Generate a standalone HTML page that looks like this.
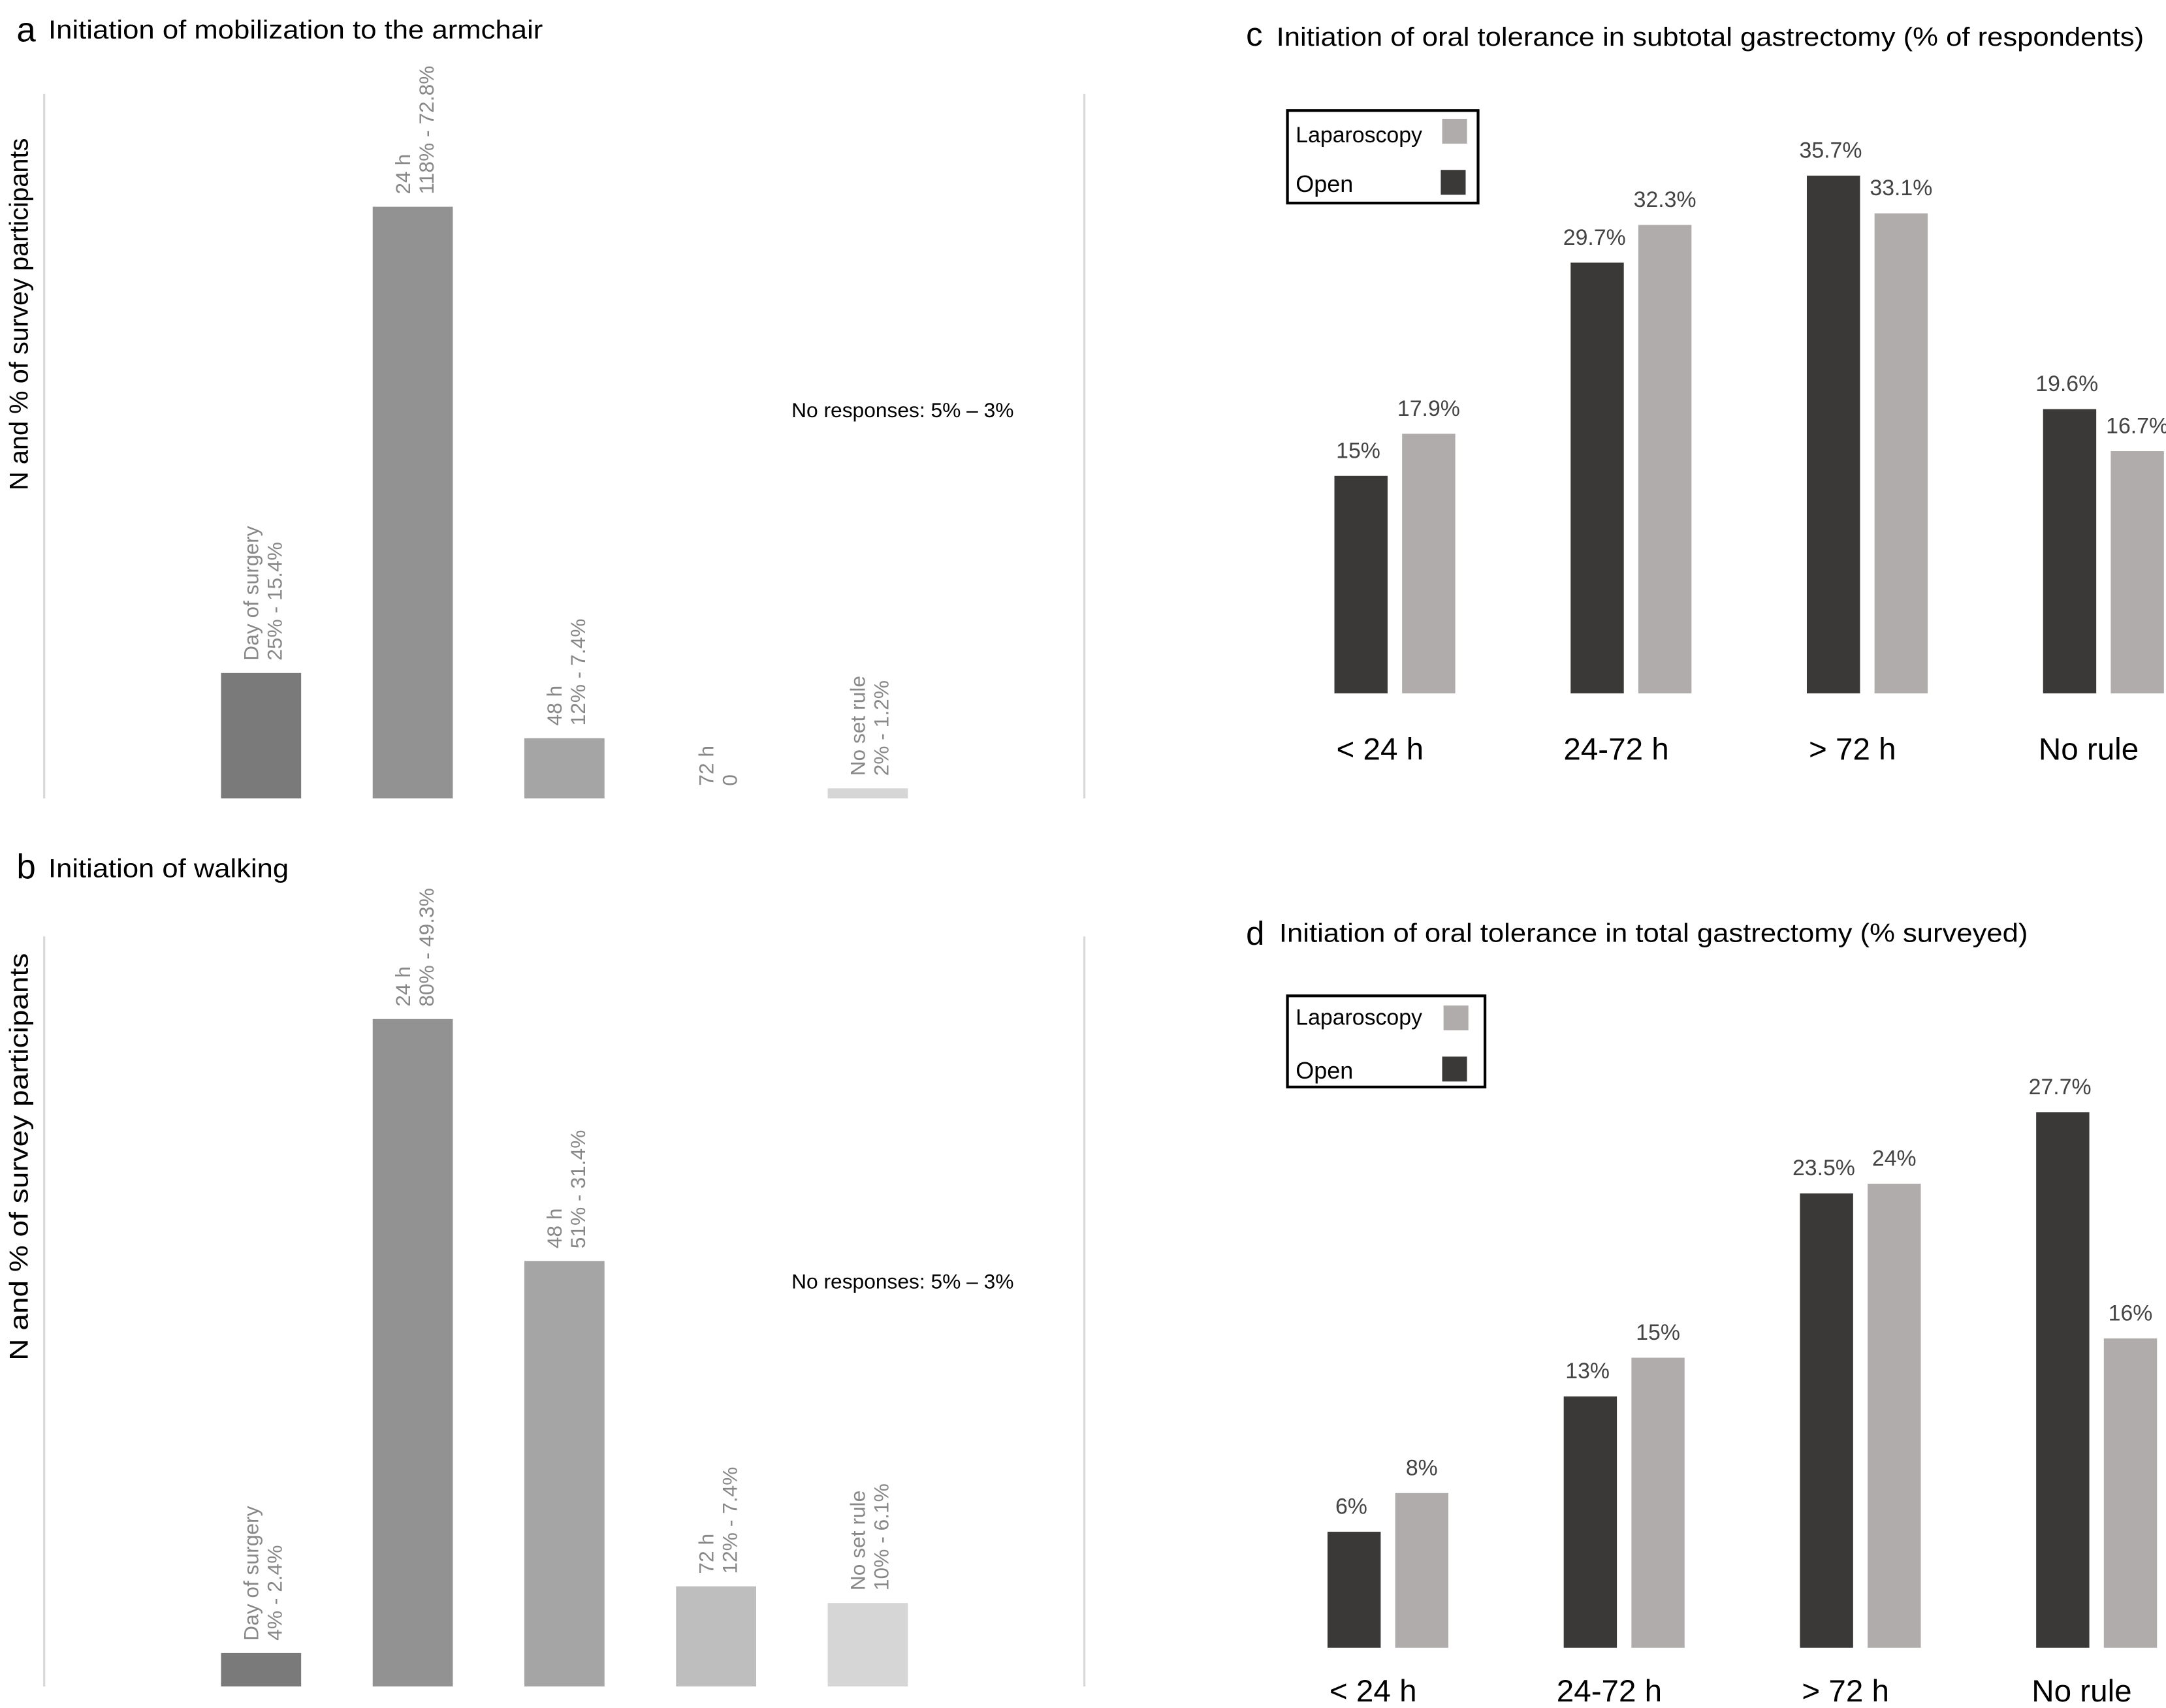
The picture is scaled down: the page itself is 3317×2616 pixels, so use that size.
<!DOCTYPE html>
<html><head><meta charset="utf-8">
<style>
html,body{margin:0;padding:0;background:#fff;}
svg{display:block;font-family:"Liberation Sans",Arial,sans-serif;}
</style></head>
<body>
<svg id="fig" width="3317" height="2616" viewBox="0 0 1568 1236.6" xmlns="http://www.w3.org/2000/svg">
<g>
 <text x="12" y="30" font-size="25">a</text>
 <text x="35" y="28" font-size="19" textLength="358" lengthAdjust="spacingAndGlyphs">Initiation of mobilization to the armchair</text>
 <line x1="32" y1="68" x2="32" y2="578" stroke="#d8d8d8" stroke-width="1.5"/>
 <line x1="785" y1="68" x2="785" y2="578" stroke="#d8d8d8" stroke-width="1.5"/>
 <text transform="translate(20,355) rotate(-90)" font-size="19" textLength="255" lengthAdjust="spacingAndGlyphs">N and % of survey participants</text>
 <text x="573" y="302" font-size="15">No responses: 5% – 3%</text>
 <g id="barsA"></g>
</g>
<g>
 <text x="12" y="636" font-size="25">b</text>
 <text x="35" y="635" font-size="19" textLength="174" lengthAdjust="spacingAndGlyphs">Initiation of walking</text>
 <line x1="32" y1="678" x2="32" y2="1221" stroke="#d8d8d8" stroke-width="1.5"/>
 <line x1="785" y1="678" x2="785" y2="1221" stroke="#d8d8d8" stroke-width="1.5"/>
 <text transform="translate(20,985) rotate(-90)" font-size="19" textLength="295" lengthAdjust="spacingAndGlyphs">N and % of survey participants</text>
 <text x="573" y="933" font-size="15">No responses: 5% – 3%</text>
 <g id="barsB"></g>
</g>
<g>
 <text x="902" y="33" font-size="24">c</text>
 <text x="924" y="33" font-size="19" textLength="628" lengthAdjust="spacingAndGlyphs">Initiation of oral tolerance in subtotal gastrectomy (% of respondents)</text>
 <g>
  <rect x="932" y="80" width="138" height="67" fill="#fff" stroke="#000" stroke-width="2"/>
  <text x="938" y="103" font-size="16">Laparoscopy</text>
  <rect x="1044" y="86" width="18" height="18" fill="#b0acab"/>
  <text x="938" y="139" font-size="17">Open</text>
  <rect x="1043" y="123" width="18" height="18" fill="#3a3938"/>
 </g>
 <g id="barsC"></g>
</g>
<g>
 <text x="902" y="684" font-size="24">d</text>
 <text x="926" y="682" font-size="19" textLength="542" lengthAdjust="spacingAndGlyphs">Initiation of oral tolerance in total gastrectomy (% surveyed)</text>
 <g>
  <rect x="932" y="721" width="143" height="66" fill="#fff" stroke="#000" stroke-width="2"/>
  <text x="938" y="742" font-size="16">Laparoscopy</text>
  <rect x="1045" y="728" width="18" height="18" fill="#b0acab"/>
  <text x="938" y="781" font-size="17">Open</text>
  <rect x="1044" y="765" width="18" height="18" fill="#3a3938"/>
 </g>
 <g id="barsD"></g>
</g>
</svg>
<script>
// Panel a data
const catsA = ["Day of surgery","24 h","48 h","72 h","No set rule"];
const valsA = [25,118,12,0,2];
const labsA = ["25% - 15.4%","118% - 72.8%","12% - 7.4%","0","2% - 1.2%"];
// Panel b data
const catsB = ["Day of surgery","24 h","48 h","72 h","No set rule"];
const valsB = [4,80,51,12,10];
const labsB = ["4% - 2.4%","80% - 49.3%","51% - 31.4%","12% - 7.4%","10% - 6.1%"];
// Panel c data
const catsC = ["< 24 h","24-72  h","> 72  h","No rule"];
const openC = [15,29.7,35.7,19.6];
const lapC = [17.9,32.3,33.1,16.7];
const openCLab = ["15%","29.7%","35.7%","19.6%"];
const lapCLab = ["17.9%","32.3%","33.1%","16.7%"];
// Panel d data
const catsD = ["< 24 h","24-72 h","> 72 h","No rule"];
const openD = [6,13,23.5,27.7];
const lapD = [8,15,24,16];
const openDLab = ["6%","13%","23.5%","27.7%"];
const lapDLab = ["8%","15%","24%","16%"];

const NS="http://www.w3.org/2000/svg";
function mk(tag,attrs,parent){const e=document.createElementNS(NS,tag);for(const k in attrs)e.setAttribute(k,attrs[k]);parent.appendChild(e);return e;}
const shadesAB=["#7a7a7a","#929292","#a5a5a5","#bebebe","#d6d6d6"];

function drawSingle(gid,cats,vals,labs,base,scale,prefix){
  const g=document.getElementById(gid);
  cats.forEach((c,i)=>{
    const x=160+i*109.8, w=58;
    const h=vals[i]*scale, top=base-h;
    const r=mk('rect',{x:x,y:top,width:w,height:h,fill:shadesAB[i]},g);
    
    
    const t=mk('text',{transform:`translate(${x+27},${top-9}) rotate(-90)`,'font-size':15,fill:'#888'},g);
    t.textContent=c;
    
    
    const t2=mk('text',{transform:`translate(${x+44},${top-9}) rotate(-90)`,'font-size':15,fill:'#888'},g);
    t2.textContent=labs[i];
    
    
  });
}
drawSingle('barsA',catsA,valsA,labsA,578,3.63,'panel-a');
drawSingle('barsB',catsB,valsB,labsB,1221,6.04,'panel-b');

function drawGrouped(gid,cats,open,lap,openLab,lapLab,x0,base,scale,catY,prefix){
  const g=document.getElementById(gid);
  cats.forEach((c,i)=>{
    const xo=x0+i*171, xl=xo+49, w=38.5;
    const ho=open[i]*scale, hl=lap[i]*scale;
    const r1=mk('rect',{x:xo,y:base-ho,width:w,height:ho,fill:'#3a3938'},g);
    
    
    const r2=mk('rect',{x:xl,y:base-hl,width:w,height:hl,fill:'#b0acab'},g);
    
    
    const t1=mk('text',{x:xo+w/2-2,y:base-ho-13,'font-size':16,fill:'#444','text-anchor':'middle'},g);
    t1.textContent=openLab[i];
    
    
    const t2=mk('text',{x:xl+w/2,y:base-hl-13,'font-size':16,fill:'#444','text-anchor':'middle'},g);
    t2.textContent=lapLab[i];
    
    
    const t3=mk('text',{x:xo+33,y:catY,'font-size':22.5,fill:'#000','text-anchor':'middle','xml:space':'preserve'},g);
    t3.textContent=c;
    
    
  });
}
drawGrouped('barsC',catsC,openC,lapC,openCLab,lapCLab,966,502,10.5,550,'panel-c');
drawGrouped('barsD',catsD,openD,lapD,openDLab,lapDLab,961,1193,14,1232,'panel-d');
</script>
</body></html>
